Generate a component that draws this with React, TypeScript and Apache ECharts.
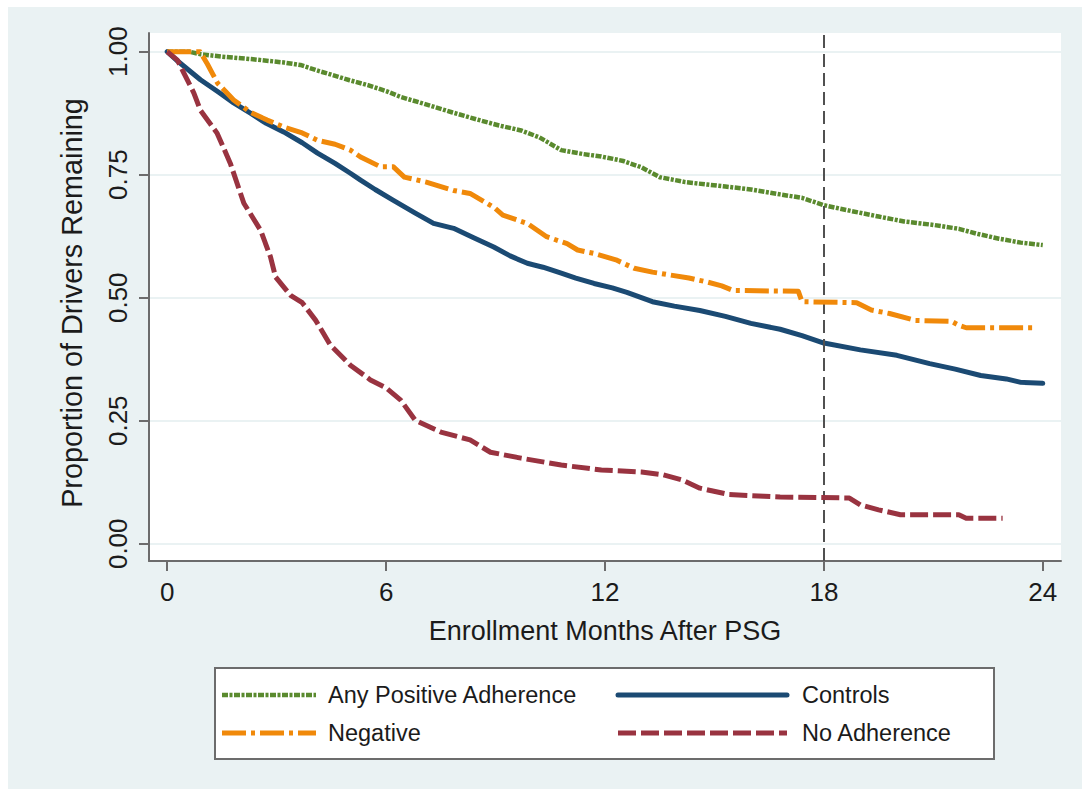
import React, { useEffect, useRef } from "react";
import * as echarts from "echarts";

// ---- Data ----
const xTicks = [0, 6, 12, 18, 24];
const yTicks = [0, 0.25, 0.5, 0.75, 1];
const cutoffMonth = 18;

const seriesNames = ["Any Positive Adherence", "Controls", "Negative", "No Adherence"];

const positiveMonths = [0, 0.6, 0.9, 1.5, 2.3, 3.2, 3.65, 4.1, 4.56, 5.0, 5.5, 6.0, 6.4, 7.0, 7.8, 8.5, 9.1, 9.7, 10.2, 10.8, 11.4, 11.9, 12.5, 13.0, 13.5, 14.2, 14.8, 15.3, 16.0, 16.8, 17.4, 18.0, 18.7, 19.5, 20.2, 21.0, 21.7, 22.2, 22.8, 23.4, 24.0];
const positiveValues = [1.0, 1.0, 0.995, 0.99, 0.985, 0.978, 0.973, 0.962, 0.952, 0.942, 0.932, 0.92, 0.908, 0.895, 0.877, 0.862, 0.85, 0.84, 0.826, 0.80, 0.792, 0.787, 0.778, 0.765, 0.745, 0.735, 0.73, 0.726, 0.72, 0.71, 0.703, 0.688, 0.677, 0.665, 0.655, 0.648, 0.64, 0.63, 0.62, 0.612, 0.607];

const controlsMonths = [0, 0.3, 0.91, 1.4, 1.82, 2.28, 2.7, 3.19, 3.7, 4.12, 4.6, 5.02, 5.3, 5.7, 6.2, 6.8, 7.3, 7.85, 8.4, 8.95, 9.4, 9.87, 10.3, 10.8, 11.2, 11.7, 12.2, 12.6, 13.3, 13.9, 14.6, 15.3, 16.0, 16.8, 17.4, 18.0, 19.0, 20.0, 20.9, 21.6, 22.3, 23.0, 23.4, 24.0];
const controlsValues = [1.0, 0.98, 0.943, 0.918, 0.896, 0.875, 0.855, 0.837, 0.815, 0.794, 0.773, 0.753, 0.739, 0.72, 0.698, 0.672, 0.651, 0.641, 0.622, 0.603, 0.585, 0.57, 0.562, 0.55, 0.54, 0.529, 0.52, 0.511, 0.492, 0.483, 0.474, 0.462, 0.448, 0.436, 0.423, 0.408, 0.394, 0.383, 0.366, 0.355, 0.342, 0.335, 0.328, 0.326];

const negativeMonths = [0, 0.9, 1.1, 1.38, 1.82, 2.28, 2.74, 3.19, 3.7, 4.12, 4.6, 5.02, 5.3, 5.85, 6.2, 6.5, 7.1, 7.85, 8.3, 8.95, 9.2, 9.87, 10.4, 10.96, 11.25, 11.7, 12.3, 12.8, 13.3, 13.8, 14.3, 14.8, 15.2, 15.5, 17.3, 17.4, 18.9, 19.3, 19.8, 20.5, 21.5, 21.7, 21.9, 23.8];
const negativeValues = [1.0, 1.0, 0.975, 0.936, 0.902, 0.877, 0.861, 0.847, 0.835, 0.82, 0.812, 0.8, 0.786, 0.766, 0.766, 0.745, 0.735, 0.718, 0.712, 0.684, 0.668, 0.651, 0.624, 0.61, 0.597, 0.59, 0.577, 0.56, 0.552, 0.546, 0.54, 0.532, 0.524, 0.515, 0.513, 0.492, 0.49, 0.475, 0.468, 0.454, 0.452, 0.444, 0.439, 0.439];

const noAdhMonths = [0, 0.28, 0.46, 0.73, 0.91, 1.37, 1.73, 2.1, 2.56, 2.83, 2.97, 3.38, 3.7, 4.07, 4.47, 5.02, 5.57, 6.0, 6.4, 6.8, 7.5, 8.3, 8.86, 9.7, 10.8, 11.9, 13.0, 13.6, 14.1, 14.6, 15.4, 16.8, 18.7, 19.0, 19.5, 20.1, 21.7, 21.9, 22.9];
const noAdhValues = [1.0, 0.983, 0.956, 0.916, 0.881, 0.834, 0.773, 0.692, 0.637, 0.583, 0.542, 0.505, 0.49, 0.454, 0.404, 0.363, 0.333, 0.317, 0.292, 0.251, 0.227, 0.211, 0.186, 0.174, 0.16, 0.15, 0.146, 0.14, 0.13, 0.113, 0.1, 0.095, 0.093, 0.079, 0.069, 0.059, 0.059, 0.052, 0.052];

// ---- Styles ----
const FONT = "'Liberation Sans', Arial, Helvetica, sans-serif";
const BG = "#eaf2f3";
const AXIS = "#6c6c6c";
const TEXT = "#1b1b1b";

const styles: Record<string, { color: string; width: number; dash: number[] | "solid"; cap: string }> = {
  "Any Positive Adherence": { color: "#5a8a2e", width: 4.5, dash: [6, 1.5, 3, 1.5], cap: "butt" },
  Controls: { color: "#1b4a73", width: 5, dash: "solid", cap: "round" },
  Negative: { color: "#f0890a", width: 5, dash: [24, 5, 4, 5], cap: "butt" },
  "No Adherence": { color: "#993340", width: 5, dash: [18, 5], cap: "butt" },
};

const pairs = (xs: number[], ys: number[]) => xs.map((x, i) => [x, ys[i]]);

export default function App() {
  const ref = useRef<HTMLDivElement>(null);

  useEffect(() => {
    if (!ref.current) return;
    const chart = echarts.init(ref.current, undefined, { renderer: "svg" });

    const dataMap: Record<string, number[][]> = {
      "Any Positive Adherence": pairs(positiveMonths, positiveValues),
      Controls: pairs(controlsMonths, controlsValues),
      Negative: pairs(negativeMonths, negativeValues),
      "No Adherence": pairs(noAdhMonths, noAdhValues),
    };

    const series: any[] = seriesNames.map((name, i) => {
      const s = styles[name];
      const item: any = {
        name,
        type: "line",
        data: dataMap[name],
        showSymbol: false,
        symbol: "none",
        z: 3 + i,
        lineStyle: { color: s.color, width: s.width, type: s.dash, cap: s.cap, join: "round" },
        itemStyle: { color: s.color },
      };
      if (i === 0) {
        item.markLine = {
          silent: true,
          symbol: "none",
          label: { show: false },
          lineStyle: { color: "#505050", width: 2, type: [13, 6] },
          data: [{ xAxis: cutoffMonth }],
        };
      }
      return item;
    });

    // legend (drawn as a box with two columns)
    const legendLeft = 206;
    const legendTop = 660;
    const rows = [688, 726];
    const cols = [
      { x1: 214, x2: 308, tx: 320 },
      { x1: 610, x2: 779, tx: 794 },
    ];
    const legendOrder = [
      ["Any Positive Adherence", 0, 0],
      ["Negative", 0, 1],
      ["Controls", 1, 0],
      ["No Adherence", 1, 1],
    ] as const;
    const legendEls: any[] = [
      {
        type: "rect",
        left: legendLeft,
        top: legendTop,
        shape: { width: 779, height: 91 },
        style: { fill: "#ffffff", stroke: "#6c6c6c", lineWidth: 2 },
        z: 10,
      },
    ];
    legendOrder.forEach(([name, c, r]) => {
      const s = styles[name];
      const col = cols[c];
      const y = rows[r];
      legendEls.push({
        type: "line",
        shape: { x1: col.x1, y1: y, x2: col.x2, y2: y },
        style: {
          stroke: s.color,
          lineWidth: s.width,
          lineDash: s.dash === "solid" ? null : s.dash,
          lineCap: s.cap,
        },
        z: 11,
      });
      legendEls.push({
        type: "text",
        x: col.tx,
        y,
        style: {
          text: name,
          fill: TEXT,
          font: `23.5px ${FONT}`,
          verticalAlign: "middle",
          align: "left",
        },
        z: 11,
      });
    });

    chart.setOption({
      animation: false,
      backgroundColor: BG,
      textStyle: { fontFamily: FONT },
      grid: {
        left: 141,
        top: 26,
        right: 21,
        bottom: 228,
        show: true,
        backgroundColor: "#ffffff",
        borderWidth: 0,
        containLabel: false,
      },
      xAxis: {
        type: "value",
        min: -0.5,
        max: 24.5,
        name: "Enrollment Months After PSG",
        nameLocation: "middle",
        nameGap: 56,
        nameTextStyle: { fontSize: 27, color: TEXT, fontFamily: FONT },
        axisLine: { show: true, onZero: false, lineStyle: { color: AXIS, width: 2 } },
        axisTick: { show: true, length: 10, lineStyle: { color: AXIS, width: 2 }, customValues: xTicks },
        axisLabel: {
          fontSize: 26,
          color: TEXT,
          margin: 18,
          fontFamily: FONT,
          customValues: xTicks,
          formatter: (v: number) => String(v),
        },
        splitLine: { show: false },
      },
      yAxis: {
        type: "value",
        min: -0.035,
        max: 1.038,
        name: "Proportion of Drivers Remaining",
        nameLocation: "middle",
        nameRotate: 90,
        nameGap: 63,
        nameTextStyle: { fontSize: 28.8, color: TEXT, fontFamily: FONT, padding: [0, 12, 0, 0] },
        axisLine: { show: true, onZero: false, lineStyle: { color: AXIS, width: 2 } },
        axisTick: { show: true, length: 10, lineStyle: { color: AXIS, width: 2 }, customValues: yTicks },
        axisLabel: {
          fontSize: 26,
          color: TEXT,
          margin: 18,
          rotate: 90,
          fontFamily: FONT,
          customValues: yTicks,
          formatter: (v: number) => v.toFixed(2),
        },
        splitLine: { show: true, lineStyle: { color: BG, width: 2 } },
      },
      series,
      graphic: legendEls,
    });

    return () => chart.dispose();
  }, []);

  return (
    <div
      ref={ref}
      style={{ position: "fixed", left: 8, top: 7, width: 1074, height: 782 }}
    />
  );
}
